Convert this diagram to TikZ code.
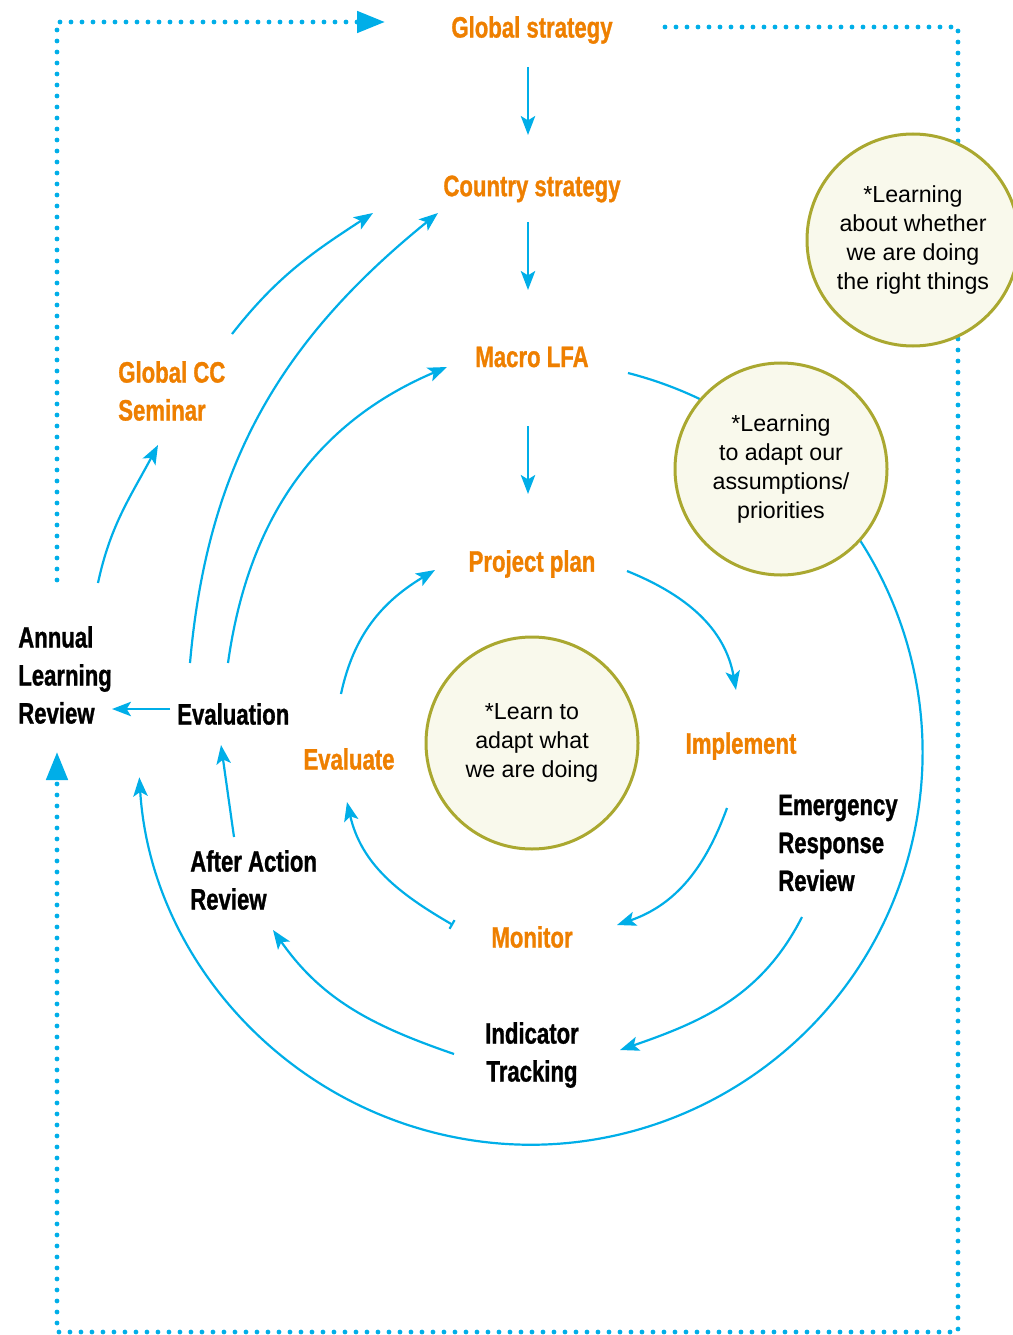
\documentclass[tikz,border=0pt]{standalone}
\usepackage{fontspec}
\setmainfont{Liberation Sans}
\newfontfamily\condfont[FakeStretch=0.75,FakeBold=1]{Liberation Sans Bold}
\usetikzlibrary{arrows.meta}
\definecolor{cyanline}{RGB}{0,174,232}
\definecolor{stageorange}{RGB}{238,127,0}
\definecolor{olive}{RGB}{170,168,48}
\definecolor{cream}{RGB}{249,249,236}
\begin{document}
\begin{tikzpicture}[x=0.25mm,y=-0.25mm,
    >={Stealth[length=4.75mm,width=3.6mm,inset=1.1mm]},
    stage/.style={font=\condfont\fontsize{21}{27}\selectfont,text=stageorange,inner sep=0pt,align=left},
    review/.style={font=\condfont\fontsize{21}{27}\selectfont,text=black,inner sep=0pt,align=left},
    learn/.style={circle,draw=olive,line width=0.75mm,fill=cream,minimum size=53mm,inner sep=0pt,
      align=center,font=\fontsize{16.5}{20.6}\selectfont},
    flow/.style={draw=cyanline,line width=0.55mm,->},
    frame/.style={draw=cyanline,line width=1.2mm,line cap=round,dash pattern=on 0pt off 2.75mm,
      -{Triangle[length=7mm,width=5.25mm]}}]
  \useasboundingbox (0,0) rectangle (1012,1335);
  \node[stage] (global) at (532,30) {Global strategy};
  \node[stage] (country) at (532,189) {Country strategy};
  \node[stage] (macro) at (532,357) {Macro LFA};
  \node[stage] (plan) at (532,564) {Project plan};
  \node[stage] (impl) at (741,746) {Implement};
  \node[stage] (monitor) at (532,937) {Monitor};
  \node[stage] (evaluate) at (349,759) {Evaluate};
  \node[stage,anchor=west] (seminar) at (118,391) {Global CC\\Seminar};
  \node[review,anchor=west] (annual) at (18,675) {Annual\\Learning\\Review};
  \node[review,anchor=west] (evaluation) at (177,714) {Evaluation};
  \node[review,anchor=west] (aar) at (190,880) {After Action\\Review};
  \node[review,align=center] (indicator) at (532,1055) {Indicator\\Tracking};
  \node[review,anchor=west] (err) at (778,843) {Emergency\\Response\\Review};
  \coordinate (nw) at (57,22);
  \coordinate (ne) at (958,27);
  \coordinate (se) at (958,1332);
  \coordinate (sw) at (57,1332);
  \draw[frame] ([shift={(39,-95)}]annual.west) -- (nw) -- ([shift={(-147,-8)}]global.center);
  \draw[frame] ([shift={(133,-3)}]global.center) -- (ne) -- (se) -- (sw) -- ([shift={(39,77)}]annual.west);
  \draw[flow] ([shift={(-4,37)}]global.center) -- ([shift={(-4,-54)}]country.center);
  \draw[flow] ([shift={(-4,33)}]country.center) -- ([shift={(-4,-67)}]macro.center);
  \draw[flow] ([shift={(-4,69)}]macro.center) -- ([shift={(-4,-70)}]plan.center);
  \draw[flow] ([shift={(95,7)}]plan.center) to[out=-22,in=100] ([shift={(-5,-56)}]impl.center);
  \draw[flow] ([shift={(-14,62)}]impl.center) to[out=-110,in=19] ([shift={(85,-12)}]monitor.center);
  \draw[flow,{Bar[width=2.5mm]}->] ([shift={(-79,-12)}]monitor.center) to[out=150,in=-77] ([shift={(-2,43)}]evaluate.center);
  \draw[flow] ([shift={(-8,-65)}]evaluate.center) to[out=78,in=211] ([shift={(-97,6)}]plan.center);
  \draw[flow] ([shift={(-7,-5)}]evaluation.west) -- ([shift={(94,34)}]annual.west);
  \draw[flow] ([shift={(44,-43)}]aar.west) -- ([shift={(44,31)}]evaluation.west);
  \draw[flow] ([shift={(-78,-1)}]indicator.center) to[out=161,in=-55] ([shift={(83,50)}]aar.west);
  \draw[flow] ([shift={(24,74)}]err.west) to[out=-117,in=19] ([shift={(88,-5)}]indicator.center);
  \draw[flow] ([shift={(80,-92)}]annual.west) to[out=78,in=242] ([shift={(40,54)}]seminar.west);
  \draw[flow] ([shift={(114,-57)}]seminar.west) to[out=52,in=213] ([shift={(-159,24)}]country.center);
  \draw[flow] ([shift={(13,-51)}]evaluation.west) to[out=85,in=219] ([shift={(-94,24)}]country.center);
  \draw[flow] ([shift={(51,-51)}]evaluation.west) to[out=82,in=203] ([shift={(-85,10)}]macro.center);
  \draw[flow] ([shift={(96,16)}]macro.center) arc[start angle=-75.6,end angle=176.4,radius=392];
  \node[learn] (doing) at (532,743) {*Learn to\\adapt what\\we are doing};
  \node[learn] (adapt) at (781,469) {*Learning\\to adapt our\\assumptions/\\priorities};
  \node[learn] (whether) at (913,240) {*Learning\\about whether\\we are doing\\the right things};
\end{tikzpicture}
\end{document}
